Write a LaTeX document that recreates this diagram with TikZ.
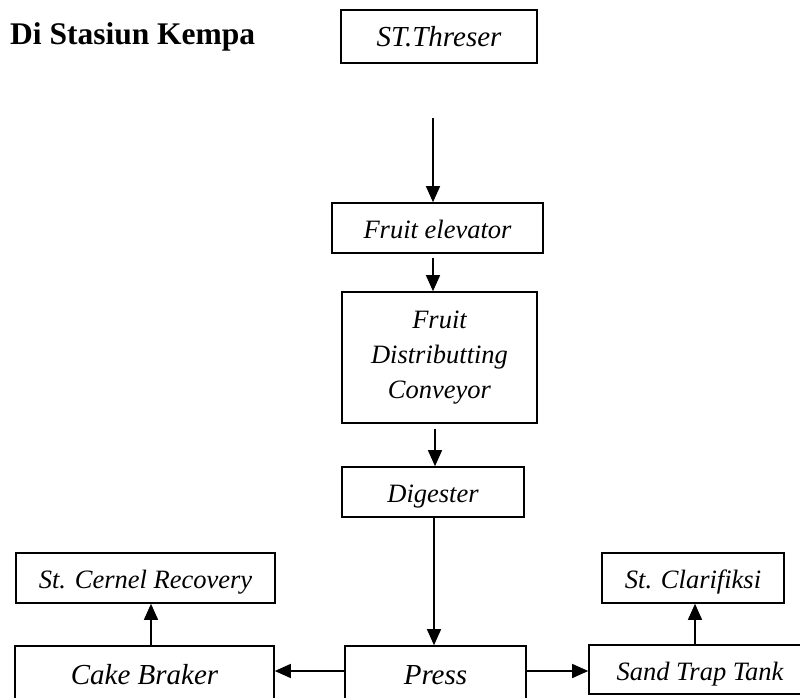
\documentclass[tikz,border=0pt]{standalone}
\usepackage{fontspec}
\setmainfont{Liberation Serif}
\usetikzlibrary{arrows.meta}
\tikzset{
  box/.style={draw, line width=1.6pt, inner sep=0pt, align=center, font=\itshape\fontsize{26.5}{34.7}\selectfont},
  onel/.style={text height=21pt, text depth=0pt},
  bigtxt/.style={font=\itshape\fontsize{29}{34}\selectfont},
  arr/.style={draw, line width=1.4pt, -{Triangle[length=16pt,width=14pt]}}
}
\begin{document}
\begin{tikzpicture}[x=1pt,y=-1pt]
\useasboundingbox (0,0) rectangle (800,698);
% title
\node[anchor=base west, inner sep=0pt, font=\bfseries\fontsize{31.5}{36}\selectfont] (title) at (10,45) {Di Stasiun Kempa};
% boxes
\node[box, onel, bigtxt, minimum width=196pt, minimum height=53pt] (thr) at (439,36.5) {ST.Threser};
\node[box, onel, minimum width=211pt, minimum height=50pt] (fe) at (437.5,228) {Fruit elevator};
\node[box, minimum width=195pt, minimum height=131pt] (fdc) at (439.5,357.5) {Fruit\\Distributting\\Conveyor};
\node[box, onel, minimum width=182pt, minimum height=50pt] (dig) at (433,492) {Digester};
\node[box, onel, bigtxt, minimum width=181pt, minimum height=56pt] (press) at (435.5,674) {Press};
\node[box, onel, bigtxt, minimum width=259pt, minimum height=56pt] (cake) at (144.5,674) {Cake Braker};
\node[box, onel, minimum width=259pt, minimum height=50pt] (cer) at (145.5,578) {St. Cernel Recovery};
\node[box, onel, minimum width=222pt, minimum height=49pt] (sand) at (700,669.5) {Sand Trap Tank};
\node[box, onel, minimum width=182pt, minimum height=50pt] (cla) at (693,578) {St. Clarifiksi};
% connectors
\coordinate (a1) at (433,118);
\draw[arr] (a1) -- (a1 |- fe.north);
\draw[arr, shorten <=4pt] ([xshift=-4.5pt]fe.south) -- ([xshift=-4.5pt]fe.south |- fdc.north);
\draw[arr, shorten <=5pt] ([xshift=-4.5pt]fdc.south) -- ([xshift=-4.5pt]fdc.south |- dig.north);
\draw[arr] ([xshift=1pt]dig.south) -- ([xshift=1pt]dig.south |- press.north);
\draw[arr] ([yshift=3pt]press.west) -- ([yshift=3pt]press.west -| cake.east);
\draw[arr] ([yshift=3pt]press.east) -- ([yshift=3pt]press.east -| sand.west);
\draw[arr] ([xshift=6.5pt]cake.north) -- ([xshift=6.5pt]cake.north |- cer.south);
\draw[arr] ([xshift=-5pt]sand.north) -- ([xshift=-5pt]sand.north |- cla.south);
\end{tikzpicture}
\end{document}
